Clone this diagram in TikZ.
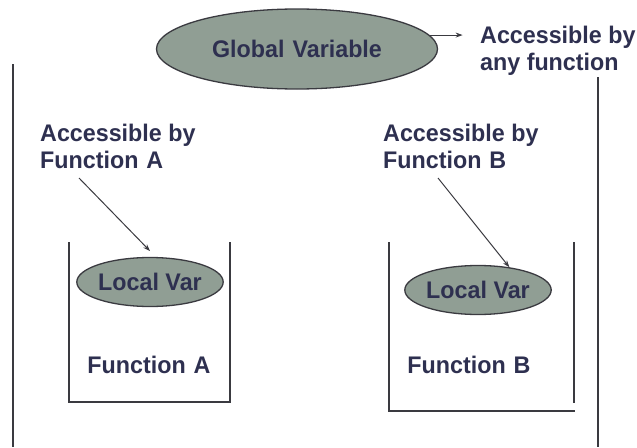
\documentclass[tikz,border=0pt]{standalone}
\usepackage{fontspec}
\setmainfont{Liberation Sans}[FakeStretch=0.97]
\usetikzlibrary{shapes.geometric,arrows.meta}
\definecolor{txt}{HTML}{2E3050}
\definecolor{efill}{HTML}{909E94}
\definecolor{ln}{HTML}{3A3A40}
\tikzset{
  lbl/.style={inner sep=0pt, text=txt, font=\fontsize{24}{27}\selectfont\bfseries, align=left},
  var/.style={ellipse, draw=ln, line width=1.3pt, fill=efill, inner sep=0pt, text=txt, font=\fontsize{24}{27}\selectfont\bfseries},
  wall/.style={draw=ln, line width=1.5pt},
  arr/.style={draw=ln, line width=1pt, -{Stealth[length=7pt,width=5pt]}}
}
\begin{document}
\begin{tikzpicture}[x=1pt,y=-1pt]
\useasboundingbox (0,0) rectangle (637,447);
% global variable
\node[var, minimum width=281pt, minimum height=80pt] (glob) at (297,49) {Global\,\,Variable};
\node[lbl, anchor=west] (accAny) at (480,51) {Accessible by\\any function};
\draw[arr] (glob.6.6) -- ++(33,0) coordinate (gtip);
% outer walls
\coordinate (wl1) at (13,64);
\coordinate (wl2) at (13,447);
\coordinate (wr1) at (598,77);
\coordinate (wr2) at (598,447);
\draw[wall] (wl1) -- (wl2);
\draw[wall] (wr1) -- (wr2);
% function A
\draw[wall] (69,242) -- (69,402) -- (230,402) -- (230,242);
\node[var, minimum width=146pt, minimum height=49pt] (lvA) at (150,282) {Local Var};
\node[lbl] (fnA) at (149,365) {Function\,\,A};
\node[lbl, anchor=west] (accA) at (40,146) {Accessible by\\Function\,\,A};
\coordinate (a1) at (79,178);
\coordinate (a2) at (150,251);
\draw[arr] (a1) -- (a2);
% function B
\draw[wall] (389,242) -- (389,411) -- (575,411);
\draw[wall] (574,242) -- (574,403);
\node[var, minimum width=146pt, minimum height=49pt] (lvB) at (478,290) {Local Var};
\node[lbl] (fnB) at (469,365) {Function\,\,B};
\node[lbl, anchor=west] (accB) at (383,146) {Accessible by\\Function\,\,B};
\coordinate (b1) at (438,178);
\draw[arr] (b1) -- (lvB.36);
\end{tikzpicture}
\end{document}
